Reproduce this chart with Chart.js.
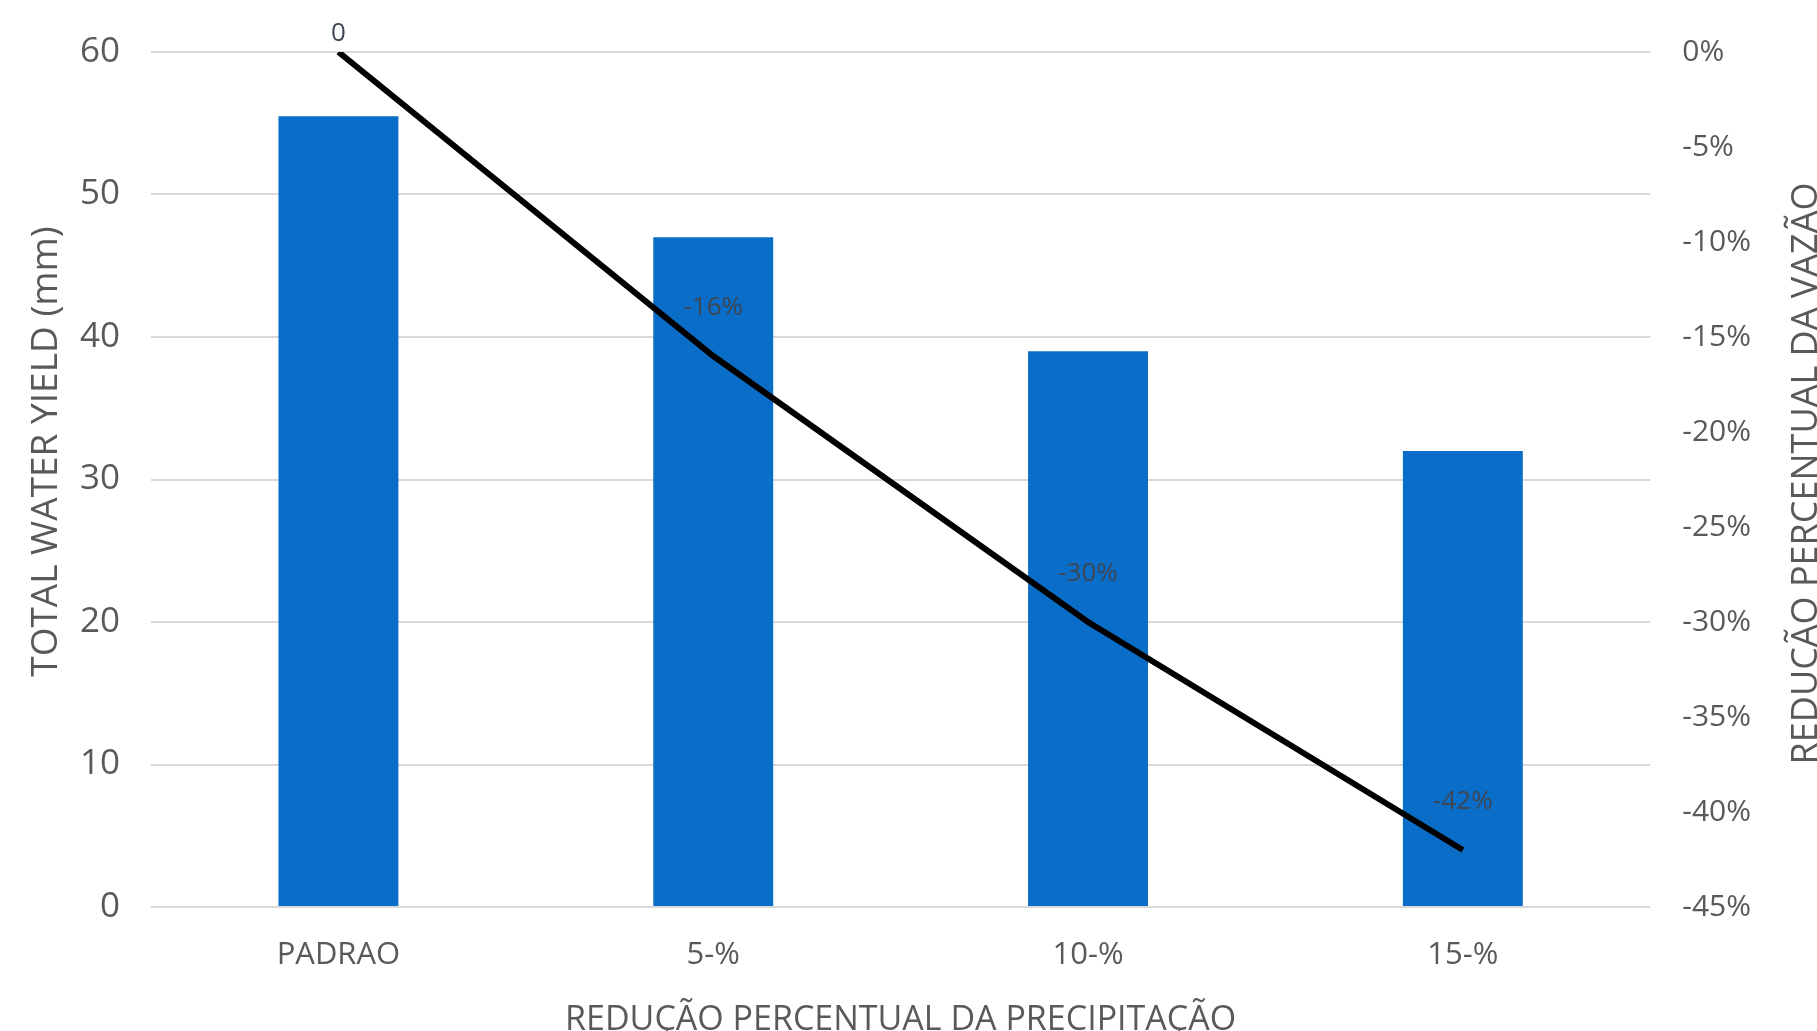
<!DOCTYPE html>
<html>
<head>
<meta charset="utf-8">
<script src="https://cdn.jsdelivr.net/npm/chart.js@4.4.1/dist/chart.umd.min.js"></script>
<style>
  body { margin: 0; background: #fff; }
  #wrap { width: 1817px; height: 1031px; }
</style>
</head>
<body>
<div id="wrap"><canvas id="grafico" width="1817" height="1031"></canvas></div>
<script>
// dados
const cenarios = ['PADRAO', '5-%', '10-%', '15-%'];
const waterYield = [55.5, 47, 39, 32];
const reducaoVazao = [0, -16, -30, -42];
const ticksEsquerda = [0, 10, 20, 30, 40, 50, 60];

const cinza = '#595959';
const fonte = '"Open Sans", Lato, sans-serif';

// rótulos da linha (não temos o plugin datalabels) + títulos verticais
const extras = {
    id: 'extras',
    afterDatasetsDraw(chart) {
        const meta = chart.getDatasetMeta(0);
        const ctx = chart.ctx;
        ctx.save();
        ctx.font = '26px ' + fonte;
        ctx.fillStyle = '#3d4652';
        ctx.textAlign = 'center';
        ctx.textBaseline = 'middle';
        meta.data.forEach((pt, i) => {
            const v = reducaoVazao[i];
            const txt = v === 0 ? '0' : v + '%';
            const y = Math.max(pt.y - 48, 34);
            ctx.fillText(txt, pt.x, y);
        });
        ctx.restore();
    },
    afterDraw(chart) {
        const ctx = chart.ctx;
        const area = chart.chartArea;
        const meio = (area.top + area.bottom) / 2;
        ctx.save();
        ctx.fillStyle = cinza;
        ctx.textAlign = 'center';
        ctx.textBaseline = 'middle';
        // eixo esquerdo
        ctx.save();
        ctx.font = '37px ' + fonte;
        ctx.translate(area.left - 105, meio - 28);
        ctx.rotate(-Math.PI / 2);
        ctx.fillText('TOTAL WATER YIELD (mm)', 0, 0);
        ctx.restore();
        // eixo direito (lido de baixo para cima, como no original)
        ctx.save();
        ctx.font = '36px ' + fonte;
        ctx.translate(area.right + 157, meio - 6);
        ctx.rotate(-Math.PI / 2);
        ctx.fillText('REDUÇÃO PERCENTUAL DA VAZÃO', 0, 0);
        ctx.restore();
        ctx.restore();
    }
};

new Chart(document.getElementById('grafico'), {
    data: {
        labels: cenarios,
        datasets: [
            {
                type: 'line',
                label: 'Redução da vazão',
                data: reducaoVazao,
                yAxisID: 'y2',
                borderColor: '#000',
                borderWidth: 6,
                pointRadius: 0,
                tension: 0,
                order: 0,
            },
            {
                type: 'bar',
                label: 'Total water yield',
                data: waterYield,
                yAxisID: 'y',
                backgroundColor: '#0a6ec8',
                barPercentage: 0.32,
                categoryPercentage: 1,
                order: 1,
            },
        ],
    },
    options: {
        responsive: false,
        animation: false,
        layout: {padding: {top: 46, left: 49, right: 34, bottom: -10}},
        plugins: {legend: {display: false}, tooltip: {enabled: false}},
        scales: {
            x: {
                grid: {display: false, drawTicks: false},
                border: {display: false},
                ticks: {color: cinza, font: {family: fonte, size: 31}, padding: 30},
                title: {display: true, text: 'REDUÇÃO PERCENTUAL DA PRECIPITAÇÃO', color: cinza,
                    font: {family: fonte, size: 34}, padding: {top: -4, bottom: 0}},
            },
            y: {
                position: 'left',
                min: 0, max: 60,
                afterBuildTicks: axis => { axis.ticks = ticksEsquerda.map(v => ({value: v})); },
                grid: {color: '#d9d9d9', lineWidth: 2, drawTicks: false},
                border: {display: false},
                ticks: {color: cinza, font: {family: fonte, size: 35}, padding: 31},
            },
            y2: {
                position: 'right',
                min: -45, max: 0,
                grid: {display: false, drawTicks: false},
                border: {display: false},
                ticks: {stepSize: 5, color: cinza, font: {family: fonte, size: 30}, padding: 32,
                    callback: v => v + '%'},
            },
        },
    },
    plugins: [extras],
});
</script>
</body>
</html>
